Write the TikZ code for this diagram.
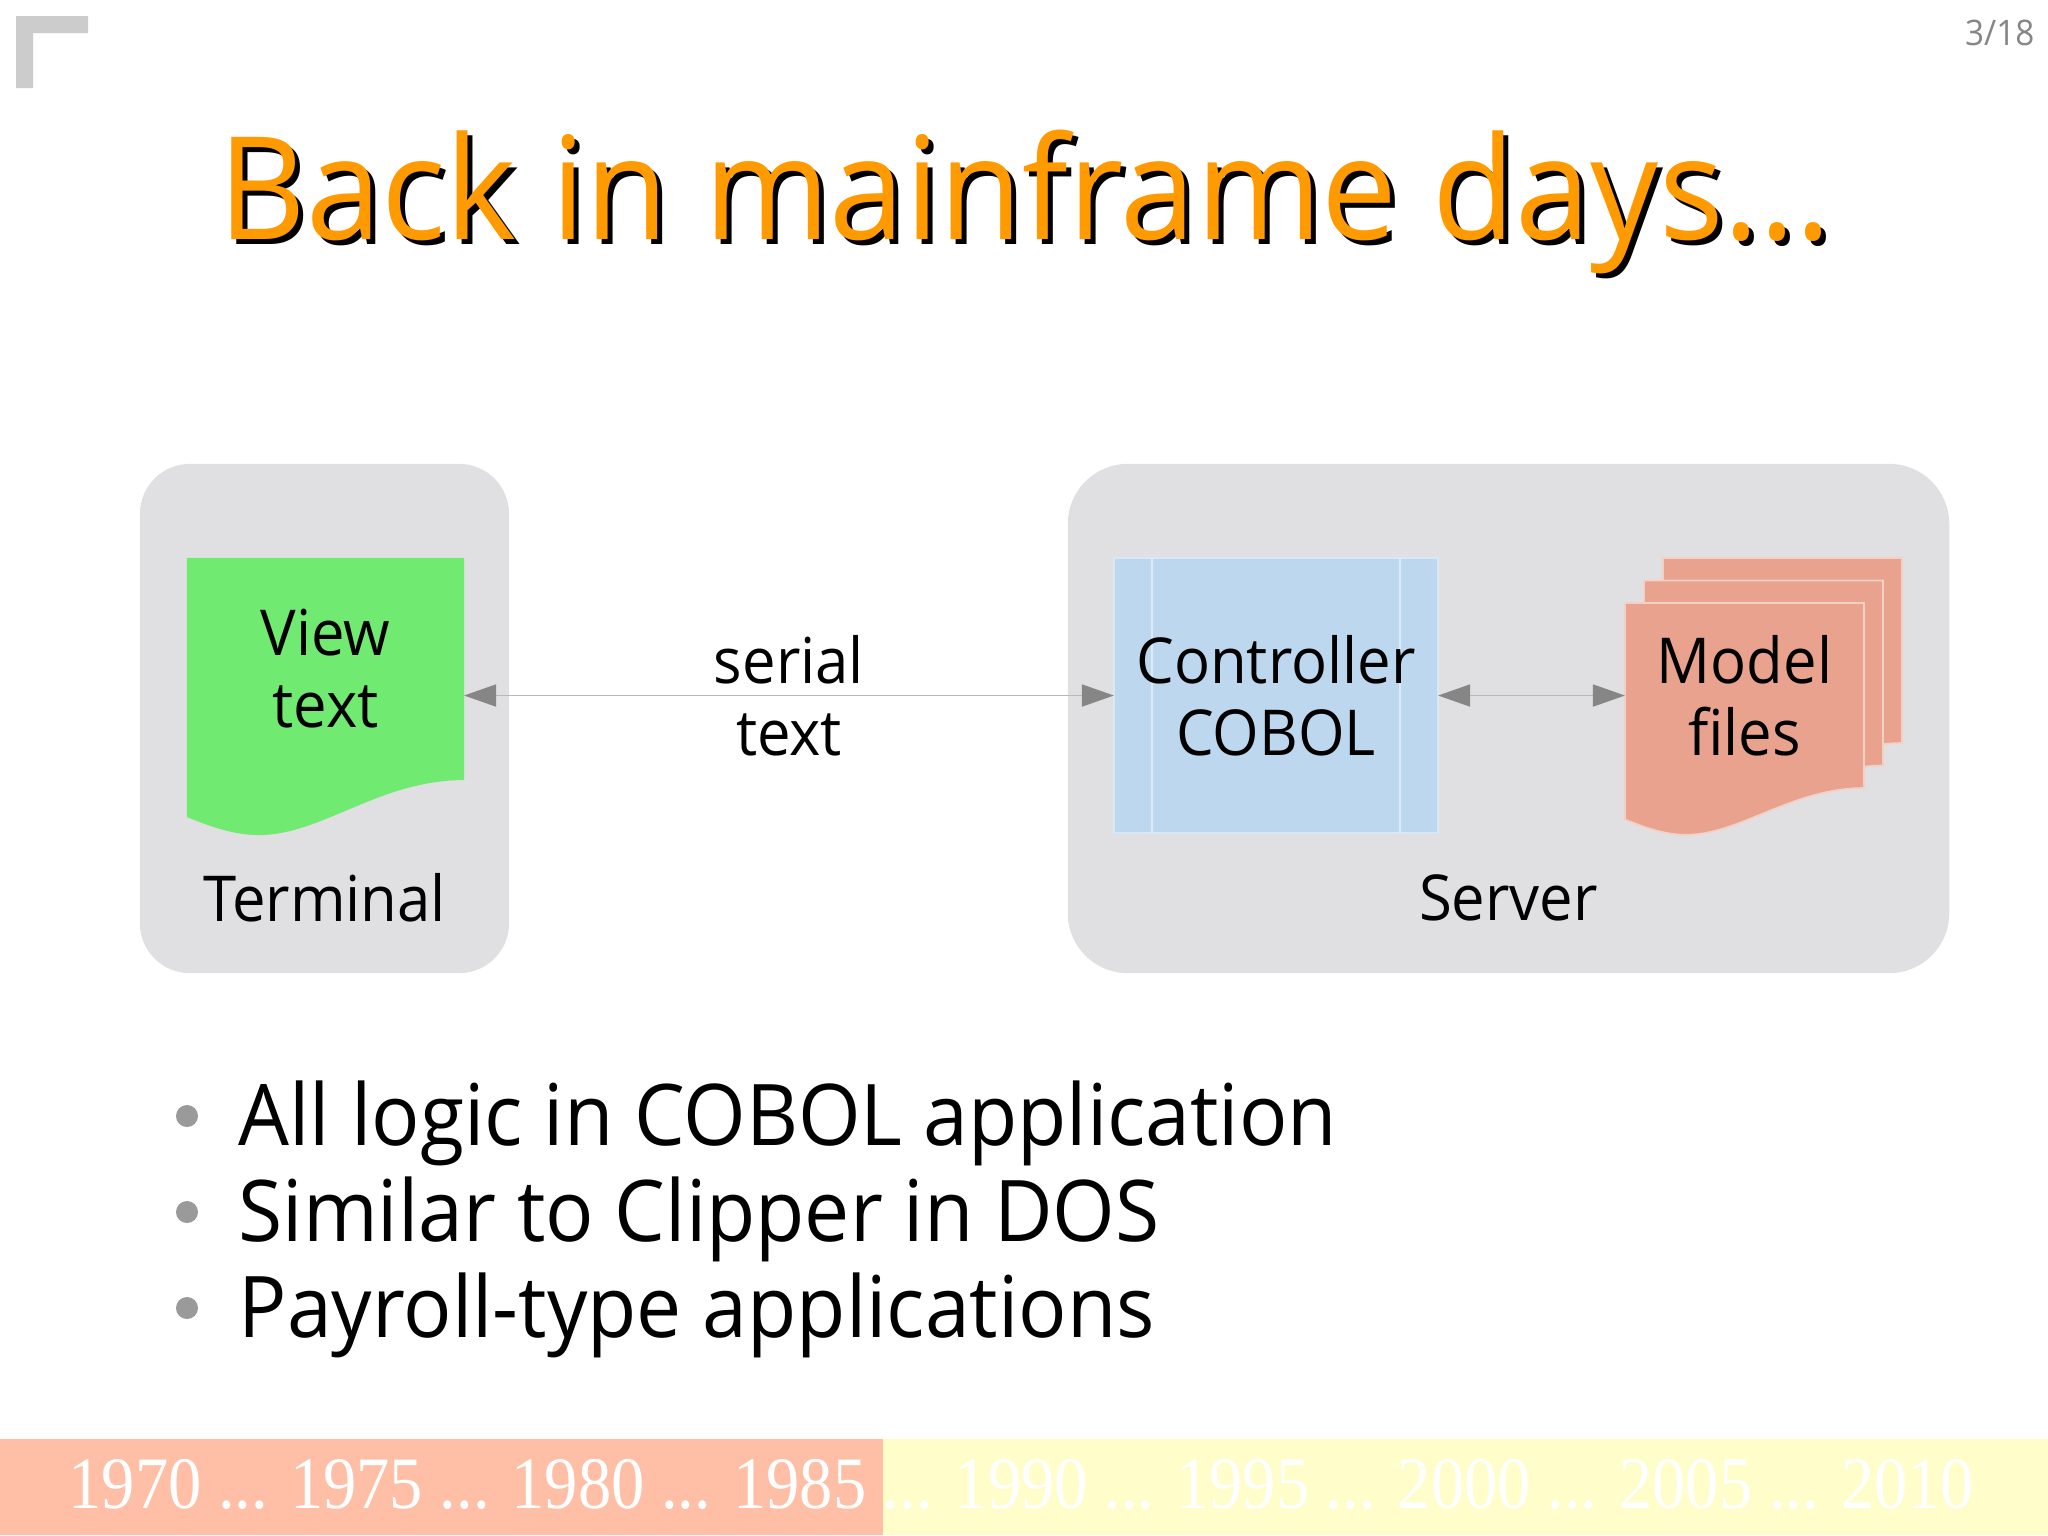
\documentclass[tikz,border=0pt]{standalone}
\usepackage{fontspec}
\setmainfont{Open Sans}[FakeStretch=0.945]
\newfontfamily\yearfont{Liberation Serif}[FakeStretch=0.9]
\usepackage{tikz}
\usetikzlibrary{calc}
\usetikzlibrary{positioning}
\usetikzlibrary{arrows.meta}

\definecolor{titleorange}{HTML}{FF9A00}
\definecolor{boxgray}{HTML}{E0E0E2}
\definecolor{viewgreen}{HTML}{71EA71}
\definecolor{ctrlblue}{HTML}{BDD7EE}
\definecolor{modelred}{HTML}{E8A28E}
\definecolor{tipgray}{HTML}{868686}
\definecolor{linegray}{HTML}{B8B8B8}
\definecolor{dotgray}{HTML}{9A9A9A}
\definecolor{pastred}{HTML}{FFBFA6}
\definecolor{futureyellow}{HTML}{FFFECB}

% document outline below a node, #2 scales the wave
\newcommand\docshape[2]{(#1.north west) -- (#1.north east) -- (#1.south east)
    .. controls ($(#1.south east)+(-#2*85,0)$) and ($(#1.south west)+(#2*135,#2*55)$) .. ($(#1.south west)+(#2*72,#2*55)$)
    .. controls ($(#1.south west)+(#2*45,#2*55)$) and ($(#1.south west)+(#2*20,#2*45)$) .. ($(#1.south west)+(0,#2*37)$) -- cycle}

\begin{document}
\begin{tikzpicture}[x=0.01cm, y=-0.01cm,
    txt/.style={font=\fontsize{18}{20.5}\selectfont, align=center, text=black},
    group/.style={fill=boxgray, rounded corners=0.5cm},
    blank/.style={inner sep=0, outer sep=0},
    page/.style={fill=modelred, draw=modelred!50!white, line width=0.5pt},
    conn/.style={draw=linegray, line width=0.5pt, {Triangle[length=0.32cm, width=0.22cm, color=tipgray]}-{Triangle[length=0.32cm, width=0.22cm, color=tipgray]}},
    bullet/.style={font=\fontsize{24.2}{30}\selectfont, anchor=base west, inner sep=0}]
    \fill[white] (0,0) rectangle (2048,1535);
    \useasboundingbox (0,0) rectangle (2048,1535);

    % corner mark and page number
    \fill[gray!40] (16,16) -- (88,16) -- (88,33) -- (33,33) -- (33,88) -- (16,88) -- cycle;
    \node[text=gray!95, font=\fontsize{10}{12}\selectfont, anchor=base east, inner sep=0] (pagenum) at (2035,45) {3/18};

    % title
    \node[font=\fontsize{40.7}{48}\selectfont, anchor=base, text=black] (titleshadow) at (1030,244) {Back in mainframe days...};
    \node[font=\fontsize{40.7}{48}\selectfont, anchor=base, text=titleorange] (title) at (1025,239) {Back in mainframe days...};

    % groups
    \node[group, minimum width=3.69cm, minimum height=5.09cm, blank] (terminal) at (324.5,718.5) {};
    \node[group, rounded corners=0.6cm, minimum width=8.81cm, minimum height=5.09cm, blank] (server) at (1508.5,718.5) {};
    \node[txt] (termlbl) at ([yshift=0.75cm]terminal.south) {Terminal};
    \node[txt] (serverlbl) at ([yshift=0.75cm]server.south) {Server};

    % view
    \node[blank, minimum width=2.77cm, minimum height=2.22cm] (view) at (325.5,669) {};
    \fill[viewgreen] \docshape{view}{1};
    \node[txt] at (view) {View\\text};

    % controller
    \node[blank, fill=ctrlblue, draw=ctrlblue!60!white, line width=0.4pt, minimum width=3.24cm, minimum height=2.75cm] (ctrl) at (1276,695.5) {};
    \draw[ctrlblue!50!white, line width=0.5pt] ([xshift=0.38cm]ctrl.north west) -- ([xshift=0.38cm]ctrl.south west);
    \draw[ctrlblue!50!white, line width=0.5pt] ([xshift=-0.38cm]ctrl.north east) -- ([xshift=-0.38cm]ctrl.south east);
    \node[txt] at (ctrl) {Controller\\COBOL};

    % model files
    \node[blank, minimum width=2.39cm, minimum height=1.85cm] (model) at (1744.5,695.5) {};
    \node[blank, minimum width=2.39cm, minimum height=1.85cm] (mmid) at ([shift={(19,-22.5)}]model.center) {};
    \node[blank, minimum width=2.39cm, minimum height=1.85cm] (mback) at ([shift={(19,-22.5)}]mmid.center) {};
    \foreach \p in {mback, mmid, model}
        \filldraw[page] \docshape{\p}{0.85};
    \node[txt] at (model) {Model\\files};

    % connectors
    \draw[conn] (view.east |- ctrl.west) -- node[txt] (serial) {serial\\text} (ctrl.west);
    \draw[conn] (ctrl.east) -- (model.west);

    % bullets
    \foreach \bul[count=\i from 0] in {All logic in COBOL application, Similar to Clipper in DOS, Payroll-type applications}
    {
        \node[bullet] (b\i) at (238,{1145+96*\i}) {\bul};
        \fill[dotgray] ($(b\i.base west)+(-51,-29)$) circle (0.11cm);
    }

    % time line
    \fill[pastred] (0,1439) rectangle (883,1535);
    \fill[futureyellow] (883,1439) rectangle (2048,1535);
    \node[font=\yearfont\fontsize{21}{24}\selectfont, text=white, anchor=base west, inner sep=0] (years) at (68,1508) {1970 ... 1975 ... 1980 ... 1985 ... 1990 ... 1995 ... 2000 ... 2005 ... 2010};
\end{tikzpicture}
\end{document}
